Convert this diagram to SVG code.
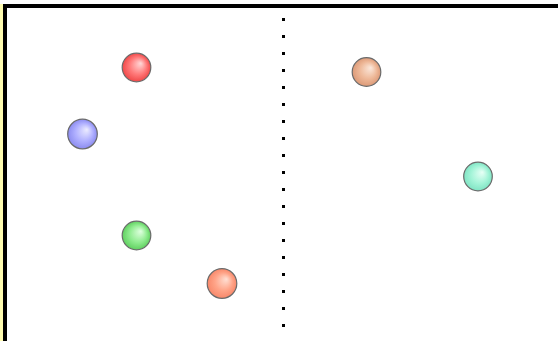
<svg xmlns="http://www.w3.org/2000/svg" width="558" height="341" viewBox="0 0 558 341">
<defs>
<style>
.ball{stroke:#6a6a6a;stroke-width:1.2}
.dot{fill:#000}
</style>
<radialGradient id="gRed" cx="0.5" cy="0.5" r="0.5" fx="0.65" fy="0.35"><stop offset="0" stop-color="#ffd8d8"/><stop offset="0.6" stop-color="#ff7a7a"/><stop offset="1" stop-color="#f04848"/></radialGradient>
<radialGradient id="gBlue" cx="0.5" cy="0.5" r="0.5" fx="0.65" fy="0.35"><stop offset="0" stop-color="#ececff"/><stop offset="0.6" stop-color="#b0b0ff"/><stop offset="1" stop-color="#8c8cf0"/></radialGradient>
<radialGradient id="gPeach" cx="0.5" cy="0.5" r="0.5" fx="0.65" fy="0.35"><stop offset="0" stop-color="#fbe8dc"/><stop offset="0.6" stop-color="#eeb898"/><stop offset="1" stop-color="#dc9a78"/></radialGradient>
<radialGradient id="gCyan" cx="0.5" cy="0.5" r="0.5" fx="0.65" fy="0.35"><stop offset="0" stop-color="#e8fff6"/><stop offset="0.6" stop-color="#a4f4d8"/><stop offset="1" stop-color="#80e4c4"/></radialGradient>
<radialGradient id="gGreen" cx="0.5" cy="0.5" r="0.5" fx="0.65" fy="0.35"><stop offset="0" stop-color="#e0ffe0"/><stop offset="0.6" stop-color="#90ec90"/><stop offset="1" stop-color="#60d060"/></radialGradient>
<radialGradient id="gOrange" cx="0.5" cy="0.5" r="0.5" fx="0.65" fy="0.35"><stop offset="0" stop-color="#ffe0d4"/><stop offset="0.6" stop-color="#ffa488"/><stop offset="1" stop-color="#f8886a"/></radialGradient>
</defs>
<rect x="0" y="0" width="558" height="341" fill="#ffffff"/>
<g id="frame">
<rect x="0" y="4" width="3" height="337" fill="#fffcb0"/>
<rect x="3" y="4" width="555" height="4" fill="#000"/>
<rect x="3" y="4" width="4" height="337" fill="#000"/>
</g>
<g id="divider">
<rect class="dot" x="282" y="18" width="3" height="3"/>
<rect class="dot" x="282" y="35" width="3" height="3"/>
<rect class="dot" x="282" y="52" width="3" height="3"/>
<rect class="dot" x="282" y="69" width="3" height="3"/>
<rect class="dot" x="282" y="86" width="3" height="3"/>
<rect class="dot" x="282" y="103" width="3" height="3"/>
<rect class="dot" x="282" y="120" width="3" height="3"/>
<rect class="dot" x="282" y="137" width="3" height="3"/>
<rect class="dot" x="282" y="154" width="3" height="3"/>
<rect class="dot" x="282" y="171" width="3" height="3"/>
<rect class="dot" x="282" y="188" width="3" height="3"/>
<rect class="dot" x="282" y="205" width="3" height="3"/>
<rect class="dot" x="282" y="222" width="3" height="3"/>
<rect class="dot" x="282" y="239" width="3" height="3"/>
<rect class="dot" x="282" y="256" width="3" height="3"/>
<rect class="dot" x="282" y="273" width="3" height="3"/>
<rect class="dot" x="282" y="290" width="3" height="3"/>
<rect class="dot" x="282" y="307" width="3" height="3"/>
<rect class="dot" x="282" y="324" width="3" height="3"/>
</g>
<g id="ball-red"><circle class="ball" cx="136.5" cy="67.5" r="14.3" fill="url(#gRed)"/></g>
<g id="ball-blue"><circle class="ball" cx="82.5" cy="134" r="14.8" fill="url(#gBlue)"/></g>
<g id="ball-peach"><circle class="ball" cx="366.5" cy="72" r="14.3" fill="url(#gPeach)"/></g>
<g id="ball-cyan"><circle class="ball" cx="478" cy="176.5" r="14.3" fill="url(#gCyan)"/></g>
<g id="ball-green"><circle class="ball" cx="136.5" cy="235.5" r="14.3" fill="url(#gGreen)"/></g>
<g id="ball-orange"><circle class="ball" cx="222" cy="283.5" r="14.8" fill="url(#gOrange)"/></g>
</svg>
